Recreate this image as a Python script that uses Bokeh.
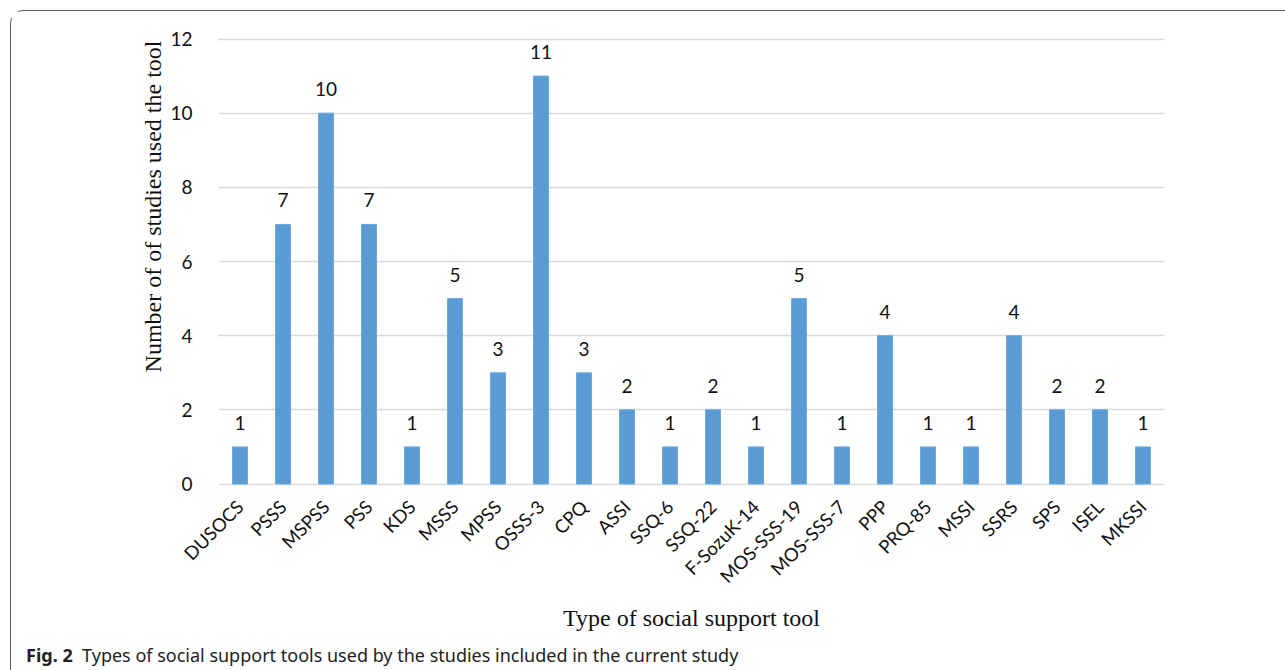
import math
from bokeh.plotting import figure
from bokeh.layouts import column
from bokeh.models import ColumnDataSource, LabelSet, Range1d, FactorRange, FixedTicker, Title, Div
from bokeh.core.properties import value
from bokeh.embed import file_html
from bokeh.resources import INLINE

# ---- data ----
tools = ["DUSOCS", "PSSS", "MSPSS", "PSS", "KDS", "MSSS", "MPSS", "OSSS-3", "CPQ", "ASSI",
         "SSQ-6", "SSQ-22", "F-SozuK-14", "MOS-SSS-19", "MOS-SSS-7", "PPP", "PRQ-85", "MSSI",
         "SSRS", "SPS", "ISEL", "MKSSI"]
counts = [1, 7, 10, 7, 1, 5, 3, 11, 3, 2, 1, 2, 1, 5, 1, 4, 1, 1, 4, 2, 2, 1]
y_ticks = [0, 2, 4, 6, 8, 10, 12]
y_title = "Number of of studies used the tool"
x_title = "Type of social support tool"
cap_bold = "Fig. 2"
cap_text = "Types of social support tools used by the studies included in the current study"

# ---- layout (window pixels) ----
OFF = 10
FL, FR, FT, FB = 217, 1163, 38, 483
PAD = 1.5
K = (FB - FT) / 12.0
W = 1285 - OFF
FIG_BOTTOM = 640
H = FIG_BOTTOM - OFF
CAP_H = 670 - FIG_BOTTOM

p = figure(
    x_range=FactorRange(*tools, range_padding=0),
    y_range=Range1d(-PAD / K, 12 + PAD / K),
    width=W, height=H,
    min_border_left=FL - OFF, min_border_right=(OFF + W) - FR,
    min_border_top=int(FT - PAD) - OFF, min_border_bottom=FIG_BOTTOM - int(FB + PAD),
    output_backend="svg", toolbar_location=None,
)
p.outline_line_color = None
p.background_fill_color = "white"
p.border_fill_color = "white"

src = ColumnDataSource(dict(tools=tools, counts=counts, labels=[str(c) for c in counts]))
p.vbar(x="tools", top="counts", width=0.35, source=src,
       fill_color="#5B9BD5", line_color="#6FA8DC", line_width=1)

p.add_layout(LabelSet(x="tools", y="counts", text="labels", source=src,
                      text_align="center", text_baseline="bottom", y_offset=17,
                      text_font=value("Lato"), text_font_size=value("19px"),
                      text_color="#111111"))

# axes
p.xgrid.grid_line_color = None
p.ygrid.grid_line_color = "#D9D9D9"
p.ygrid.grid_line_width = 1.3
p.yaxis.ticker = FixedTicker(ticks=y_ticks)
p.yaxis.axis_line_color = None
p.yaxis.major_tick_line_color = None
p.yaxis.minor_tick_line_color = None
p.yaxis.major_label_standoff = 20
p.yaxis.major_label_text_font = "Lato"
p.yaxis.major_label_text_font_size = "19px"
p.yaxis.major_label_text_color = "#111111"

p.xaxis.axis_line_color = None
p.xaxis.major_tick_line_color = None
p.xaxis.minor_tick_line_color = None
p.xaxis.major_label_orientation = math.pi / 4
p.xaxis.major_label_standoff = 12
p.xaxis.major_label_text_font = "Lato"
p.xaxis.major_label_text_font_size = "18.5px"
p.xaxis.major_label_text_color = "#111111"

# axis titles
p.add_layout(Title(text=y_title, align="right", offset=3, standoff=3,
                   text_font="Liberation Serif", text_font_size="24px",
                   text_font_style="normal", text_color="#111111"), "left")
p.add_layout(Title(text=x_title, align="center", standoff=10,
                   text_font="Liberation Serif", text_font_size="24px",
                   text_font_style="normal", text_color="#111111"), "below")

cap = Div(text=f"<b>{cap_bold}</b>&nbsp;&nbsp;{cap_text}", width=W, height=CAP_H,
          styles={"font-family": "'Noto Sans'", "font-size": "18px", "color": "#222222",
                  "padding-left": "10px", "line-height": "18px"})

layout = column(p, cap, spacing=0)
layout.margin = (OFF, 0, 0, OFF)
layout.styles = {"border-left": "1.6px solid #5c5c5c", "border-top": "1.6px solid #5c5c5c",
                 "border-top-left-radius": "14px"}

open("out.html", "w").write(file_html(layout, INLINE))
